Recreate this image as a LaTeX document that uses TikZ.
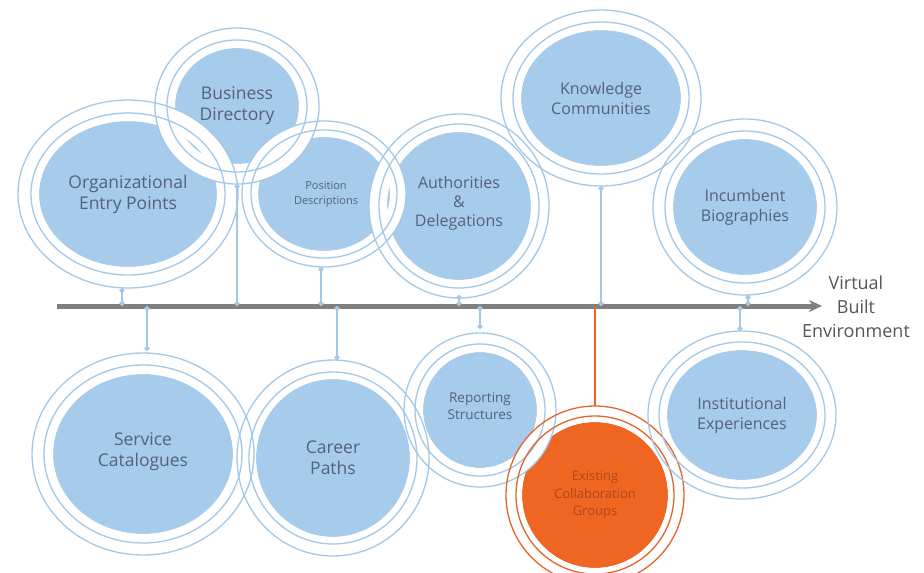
\documentclass[tikz,border=0pt]{standalone}
\usepackage{fontspec}
\setmainfont{Open Sans}
\usetikzlibrary{shapes.geometric,arrows.meta}

\definecolor{diskblue}{HTML}{A6CBEB}
\definecolor{ringblue}{HTML}{A4C8E8}
\definecolor{textblue}{HTML}{52637A}
\definecolor{orangefill}{HTML}{EF6623}
\definecolor{orangeline}{HTML}{E4652C}
\definecolor{orangetext}{HTML}{B04818}
\definecolor{axisgray}{HTML}{808080}
\definecolor{labelgray}{HTML}{555555}

\newcommand\fsz[2]{\fontsize{#1}{#2}\selectfont}

\begin{document}
\begin{tikzpicture}[x=1pt,y=-1pt,
  bubble/.style={ellipse, draw=none, inner sep=0pt, outer sep=0pt, align=center, text=textblue},
  conn/.style={draw=ringblue, line width=2pt, {Circle[length=5pt]}-{Circle[length=5pt]}},
  hotconn/.style={draw=orangeline, line width=2.5pt},
  axisline/.style={draw=axisgray, line width=5pt, -{Stealth[length=13pt,width=12pt]}}]
\useasboundingbox (0,0) rectangle (924,573);
\clip (0,0) rectangle (924,573);

% centre x / centre y / disk radii / inner ring offset / outer ring offset / colours
\def\bubbles{128/194/89/73/8/21/diskblue/ringblue,
             237/106/62/58/8/20/diskblue/ringblue,
             324/194/66/57/7/16/diskblue/ringblue,
             459/206/72/74/8/18/diskblue/ringblue,
             601/98/80/68/8/20/diskblue/ringblue,
             745/207/72/68/8/20/diskblue/ringblue,
             143/454/90/80/9/21/diskblue/ringblue,
             333/458/77/79/7/19/diskblue/ringblue,
             480/410/57/58/8/19/diskblue/ringblue,
             595/495/73/73/6/16/orangefill/orangeline,
             742/415/75/65/8/19/diskblue/ringblue}

% filled disks
\foreach \x/\y/\a/\b/\p/\q/\fc/\lc in \bubbles
  \fill[\fc] (\x,\y) ellipse [x radius=\a, y radius=\b];
% white gap around each disk
\foreach \x/\y/\a/\b/\p/\q/\fc/\lc in \bubbles
  \fill[white, even odd rule] (\x,\y) ellipse [x radius=\a+\q, y radius=\b+\q]
                              (\x,\y) ellipse [x radius=\a, y radius=\b];
% the two thin rings
\foreach \x/\y/\a/\b/\p/\q/\fc/\lc in \bubbles
  \draw[\lc, line width=1.3pt] (\x,\y) ellipse [x radius=\a+\p, y radius=\b+\p]
                               (\x,\y) ellipse [x radius=\a+\q, y radius=\b+\q];

% labelled bubbles
\node[bubble, minimum width=220pt, minimum height=188pt, font=\fsz{17.5}{21}] (org) at (128,194) {Organizational\\Entry Points};
\node[bubble, minimum width=164pt, minimum height=156pt, font=\fsz{17.5}{21}] (bd) at (237,106) {Business\\Directory};
\node[bubble, minimum width=164pt, minimum height=146pt, font=\fsz{11}{15}] (pd) at (326,194) {Position\\Descriptions};
\node[bubble, minimum width=180pt, minimum height=184pt, font=\fsz{16}{19}] (ad) at (459,203) {Authorities\\\&\\Delegations};
\node[bubble, minimum width=200pt, minimum height=176pt, font=\fsz{16}{20}] (kc) at (601,98) {Knowledge\\Communities};
\node[bubble, minimum width=184pt, minimum height=176pt, font=\fsz{16}{20}] (ib) at (745,207) {Incumbent\\Biographies};
\node[bubble, minimum width=222pt, minimum height=202pt, font=\fsz{17.5}{21}] (sc) at (143,452) {Service\\Catalogues};
\node[bubble, minimum width=192pt, minimum height=196pt, font=\fsz{17.5}{21}] (cp) at (333,458) {Career\\Paths};
\node[bubble, minimum width=152pt, minimum height=154pt, font=\fsz{13.5}{17}] (rs) at (480,406) {Reporting\\Structures};
\node[bubble, minimum width=178pt, minimum height=178pt, font=\fsz{13}{17.5}, text=orangetext] (ecg) at (595,495) {Existing\\Collaboration\\Groups};
\node[bubble, minimum width=188pt, minimum height=168pt, font=\fsz{16}{20}] (ie) at (742,415) {Institutional\\Experiences};

% time axis
\coordinate (axL) at (57,306);
\coordinate (axR) at (822,306);
\draw[axisline] (axL) -- (axR);
\node[font=\fsz{18}{24}, text=labelgray, align=center] (vbe) at (856,307) {Virtual\\Built\\Environment};

% attachment points on the rings
\coordinate (org-c) at ([xshift=-6pt]org.south);
\coordinate (sc-c)  at ([xshift=4pt]sc.north);
\coordinate (bd-c)  at (bd.south);
\coordinate (pd-c)  at ([xshift=-5pt]pd.south);
\coordinate (cp-c)  at ([xshift=4pt]cp.north);
\coordinate (ad-c)  at (ad.south);
\coordinate (rs-c)  at (rs.north);
\coordinate (ecg-c) at (ecg.north);
\coordinate (kc-c)  at (kc.south);
\coordinate (ie-c)  at ([xshift=-2pt]ie.north);
\coordinate (ib-c)  at ([xshift=3pt]ib.south);

% connectors to the axis
\foreach \c in {org-c,sc-c,bd-c,pd-c,cp-c,ad-c,rs-c,kc-c,ie-c,ib-c}
  \draw[conn] (\c) -- (\c |- axL);
\draw[hotconn] (ecg-c) -- (ecg-c |- axL);
\end{tikzpicture}
\end{document}
